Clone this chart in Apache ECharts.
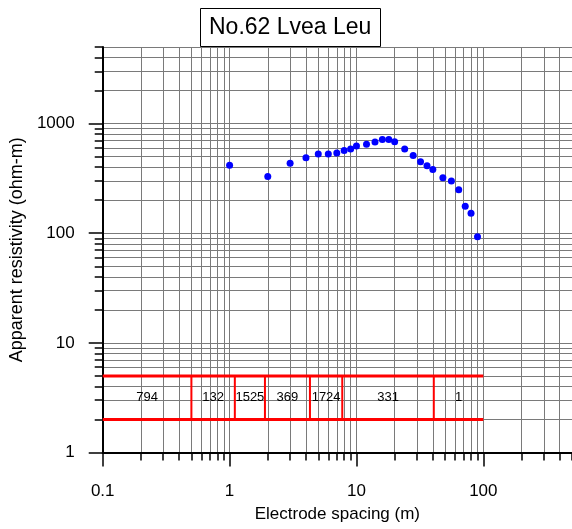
<!DOCTYPE html>
<html>
<head>
<meta charset="utf-8">
<script src="https://cdn.jsdelivr.net/npm/echarts@6/dist/echarts.min.js"></script>
<style>
  html, body { margin: 0; padding: 0; background: #fff; }
  #chart { width: 572px; height: 529px; }
</style>
</head>
<body>
<div id="chart"></div>
<script>
// Sounding curve: electrode spacing (m) vs apparent resistivity (ohm-m)
const spacing = [1, 2, 3, 4, 5, 6, 7, 8, 9, 10, 12, 14, 16, 18, 20, 24, 28, 32, 36, 40, 48, 56, 64, 72, 80, 90];
const resistivity = [418, 330, 434, 489, 528, 528, 539, 570, 586, 624, 647, 679, 718, 718, 685, 586, 513, 450, 413, 382, 321, 299, 249, 176, 152, 93];

// Layered model: boundaries (m) and layer resistivities (ohm-m)
const layerBounds = [0.1, 0.5, 1.1, 1.9, 4.3, 7.73, 40.7, 100];
const layerRes = [794, 132, 1525, 369, 1724, 331, 1];
const modelBand = [2, 5];

// Axis ticks
const xMajor = [0.1, 1, 10, 100];
const yMajor = [1, 10, 100, 1000];
const xRange = [0.1, 500];
const yRange = [1, 5000];

function minorTicks(range) {
  const out = [];
  for (let d = range[0]; d < range[1]; d *= 10) {
    for (let k = 2; k <= 9; k++) {
      const v = +(d * k).toPrecision(6);
      if (v <= range[1]) out.push(v);
    }
  }
  return out;
}
const xMinor = minorTicks(xRange);
const yMinor = minorTicks(yRange);

const FONT = 'Liberation Sans, Arial, sans-serif';
const gridLine = { show: true, lineStyle: { color: '#7a7a7a', width: 1 } };
const fmt = v => String(+v.toPrecision(6));

function logAxis(range, values, tickLen, withLine, extra) {
  return Object.assign({
    type: 'log', logBase: 10, min: range[0], max: range[1],
    axisLine: { show: withLine, lineStyle: { color: '#000', width: 2 } },
    axisTick: { show: true, customValues: values, length: tickLen, lineStyle: { color: '#000', width: 1.5 } },
    axisLabel: { show: false },
    splitLine: Object.assign({}, gridLine),
    minorTick: { show: false },
    minorSplitLine: { show: false }
  }, extra || {});
}

const series = [];

// Model band edges
modelBand.forEach(y => {
  series.push({
    type: 'line', xAxisIndex: 0, yAxisIndex: 0, symbol: 'none', silent: true, z: 3,
    lineStyle: { color: '#ff0000', width: 3 },
    data: [[layerBounds[0], y], [layerBounds[layerBounds.length - 1], y]]
  });
});
// Layer boundaries
layerBounds.slice(1, -1).forEach(b => {
  series.push({
    type: 'line', xAxisIndex: 0, yAxisIndex: 0, symbol: 'none', silent: true, z: 3,
    lineStyle: { color: '#ff0000', width: 2 },
    data: [[b, modelBand[0]], [b, modelBand[1]]]
  });
});
// Layer resistivity labels at the geometric centre of each layer
series.push({
  type: 'scatter', xAxisIndex: 0, yAxisIndex: 0, symbolSize: 0, silent: true, z: 4,
  itemStyle: { opacity: 1 },
  label: {
    show: true, position: 'inside', color: '#000', fontFamily: FONT, fontSize: 13, opacity: 1,
    formatter: p => String(p.value[2])
  },
  data: layerRes.map((r, i) => [
    Math.sqrt(layerBounds[i] * layerBounds[i + 1]),
    Math.sqrt(modelBand[0] * modelBand[1]),
    r
  ])
});
// Measured apparent resistivity
series.push({
  type: 'scatter', xAxisIndex: 0, yAxisIndex: 0, symbol: 'circle', symbolSize: 7, z: 5,
  itemStyle: { color: '#0000ff', opacity: 1 },
  data: spacing.map((s, i) => [s, resistivity[i]])
});

const option = {
  backgroundColor: '#fff',
  animation: false,
  title: {
    text: 'No.62 Lvea Leu', left: 200, top: 8, z: 10,
    padding: [5, 9, 4, 9],
    borderColor: '#000', borderWidth: 1, backgroundColor: '#fff',
    textStyle: { fontFamily: FONT, fontSize: 23, fontWeight: 'normal', color: '#000', lineHeight: 30 }
  },
  grid: { left: 101, top: 47, width: 473.5, height: 405.5, containLabel: false },
  xAxis: [
    logAxis(xRange, xMajor, 14, true, {
      position: 'bottom',
      axisLabel: { show: true, customValues: xMajor, color: '#000', fontFamily: FONT, fontSize: 17, margin: 30, formatter: fmt },
      name: 'Electrode spacing (m)', nameLocation: 'middle', nameGap: 53,
      nameTextStyle: { fontFamily: FONT, fontSize: 17, color: '#000' }
    }),
    logAxis(xRange, xMinor, 8, false, { position: 'bottom' })
  ],
  yAxis: [
    logAxis(yRange, yMajor, 14, true, {
      position: 'left',
      axisLabel: { show: true, customValues: yMajor, color: '#000', fontFamily: FONT, fontSize: 17, margin: 28, formatter: fmt },
      name: 'Apparent resistivity (ohm-m)', nameLocation: 'middle', nameGap: 74,
      nameTextStyle: { fontFamily: FONT, fontSize: 18, color: '#000' }
    }),
    logAxis(yRange, yMinor, 8, false, { position: 'left' })
  ],
  series: series
};

const chart = echarts.init(document.getElementById('chart'), null, { renderer: 'canvas' });
chart.setOption(option);
</script>
</body>
</html>
